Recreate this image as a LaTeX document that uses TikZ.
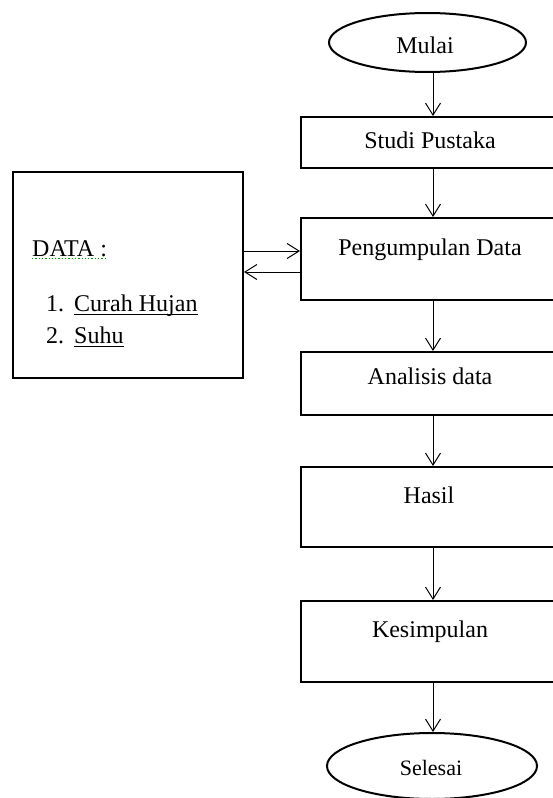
\documentclass[tikz,border=0pt]{standalone}
\usepackage{fontspec}
\setmainfont{Liberation Serif}
\usetikzlibrary{arrows.meta,shapes.geometric}
\begin{document}
\begin{tikzpicture}[x=1pt,y=-1pt,
  box/.style={draw=black,line width=2pt,rectangle,inner sep=0pt,minimum width=264pt},
  oval/.style={draw=black,line width=2pt,ellipse,inner sep=0pt},
  txt/.style={inner sep=0pt,anchor=base,font=\fontsize{24}{28}\selectfont},
  ltxt/.style={inner sep=0pt,anchor=base west,font=\fontsize{24}{28}\selectfont},
  arr/.style={line width=1pt,-{Straight Barb[length=12pt,width=15pt,line width=1pt]}},
  uline/.style={line width=1.2pt}]
\useasboundingbox (0,0) rectangle (553,798);
% flow shapes
\node[oval,minimum width=197pt,minimum height=59pt] (mulai) at (427.5,42.5) {};
\node[box,minimum height=51pt] (studi) at (433,142.5) {};
\node[box,minimum height=82pt] (peng) at (433,259) {};
\node[box,minimum height=63pt] (anal) at (433,383.5) {};
\node[box,minimum height=80pt] (hasil) at (433,507) {};
\node[box,minimum height=81pt] (kes) at (433,641.5) {};
\node[oval,minimum width=210pt,minimum height=66pt] (selesai) at (432,766) {};
\node[draw=black,line width=2pt,rectangle,inner sep=0pt,minimum width=230pt,minimum height=206pt] (data) at (128,275) {};
% texts
\node[txt] (tmulai) at (425,53) {Mulai};
\node[txt] (tstudi) at (430,148) {Studi Pustaka};
\node[txt] (tpeng) at (430,255) {Pengumpulan Data};
\node[txt] (tanal) at (430,384) {Analisis data};
\node[txt] (thasil) at (429,503) {Hasil};
\node[txt] (tkes) at (430,637) {Kesimpulan};
\node[txt,font=\fontsize{22}{26}\selectfont] (tsel) at (431,775) {Selesai};
\node[ltxt] (tdata) at (32,256) {DATA :};
\node[ltxt] (n1) at (46,311) {1.};
\node[ltxt] (curah) at (74,311) {Curah Hujan};
\node[ltxt] (n2) at (46,343) {2.};
\node[ltxt] (suhu) at (74,343) {Suhu};
\draw[uline] ([yshift=-3.5pt]curah.base west) -- ([yshift=-3.5pt]curah.base east);
\draw[uline] ([yshift=-3.5pt]suhu.base west) -- ([yshift=-3.5pt]suhu.base east);
\draw[line width=1.3pt,green!60!black,dotted] ([yshift=-2.5pt]tdata.base west) -- ([yshift=-2.5pt]tdata.base east);
% connectors
\draw[arr] (mulai.south -| studi.north) -- (studi.north);
\draw[arr] (studi.south) -- (peng.north);
\draw[arr] (peng.south) -- (anal.north);
\draw[arr] (anal.south) -- (hasil.north);
\draw[arr] (hasil.south) -- (kes.north);
\draw[arr] (kes.south) -- (selesai.north -| kes.south);
\coordinate (r1) at (0,251);
\coordinate (r2) at (0,272);
\draw[arr] (data.east |- r1) -- (peng.west |- r1);
\draw[arr] (peng.west |- r2) -- (data.east |- r2);
\end{tikzpicture}
\end{document}
